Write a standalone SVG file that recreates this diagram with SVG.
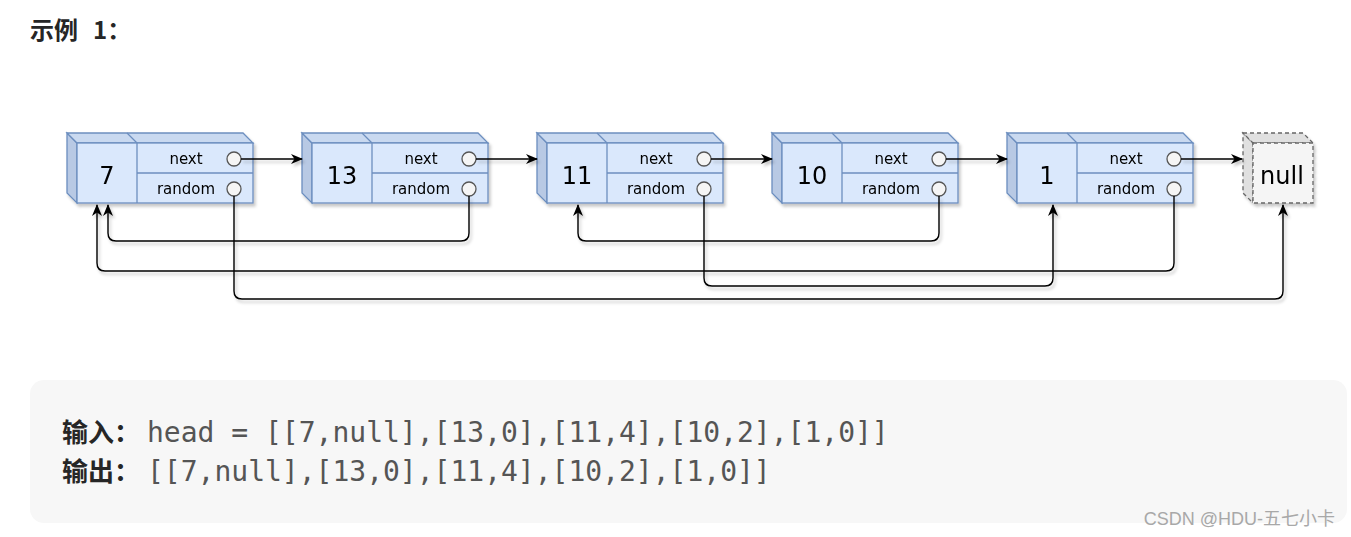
<svg xmlns="http://www.w3.org/2000/svg" width="1351" height="537" viewBox="0 0 1351 537">
<style>
.front{fill:#dae8fc;stroke:#6c8ebf;stroke-width:1.3}
.top{fill:#c9d9f0;stroke:#6c8ebf;stroke-width:1.3}
.left{fill:#b8c9e4;stroke:#6c8ebf;stroke-width:1.3}
.div{stroke:#6c8ebf;stroke-width:1.3;fill:none}
.circ{fill:#f5f5f5;stroke:#555;stroke-width:1.3}
.val{font-family:"DejaVu Sans",sans-serif;font-size:24px;fill:#000;text-anchor:middle}
.fld{font-family:"DejaVu Sans",sans-serif;font-size:15px;fill:#000;text-anchor:middle}
.conn{fill:none;stroke:#000;stroke-width:1.4}
.nfront{fill:#f5f5f5;stroke:#666;stroke-width:1.3;stroke-dasharray:4 3}
.nside{fill:#e0e0e0;stroke:#666;stroke-width:1.3;stroke-dasharray:4 3}
.cjk{font-family:"Noto Sans CJK SC",sans-serif;font-weight:bold;fill:#262626}
.mono{font-family:"DejaVu Sans Mono",monospace;font-size:28px;fill:#555}
</style>
<defs>
<filter id="sh" x="-10%" y="-10%" width="130%" height="140%">
<feDropShadow dx="2" dy="3" stdDeviation="1.5" flood-color="#000" flood-opacity="0.22"/>
</filter>
<marker id="arr" viewBox="0 0 12 10" refX="11" refY="5" markerWidth="12" markerHeight="10" markerUnits="userSpaceOnUse" orient="auto">
<path d="M0,0 L12,5 L0,10 L3.5,5 Z" fill="#000"/>
</marker>
</defs>
<rect width="1351" height="537" fill="#fff"/>
<text x="30" y="39" class="cjk" font-size="24">示例 <tspan x="93">1：</tspan></text>

<g id="node-7" filter="url(#sh)">
<polygon class="left" points="67,133 77,143 77,203 67,193"/>
<polygon class="top" points="67,133 243,133 253,143 77,143"/>
<line class="div" x1="127" y1="133" x2="137" y2="143"/>
<rect class="front" x="77" y="143" width="176" height="60"/>
<line class="div" x1="137" y1="143" x2="137" y2="203"/>
<line class="div" x1="137" y1="173" x2="253" y2="173" stroke-width="2"/>
<text class="val" x="107" y="184">7</text>
<text class="fld" x="186" y="164">next</text>
<text class="fld" x="186" y="194">random</text>
<circle class="circ" cx="234" cy="159" r="7"/>
<circle class="circ" cx="234" cy="189" r="7"/>
</g>
<g id="node-13" filter="url(#sh)">
<polygon class="left" points="302,133 312,143 312,203 302,193"/>
<polygon class="top" points="302,133 478,133 488,143 312,143"/>
<line class="div" x1="362" y1="133" x2="372" y2="143"/>
<rect class="front" x="312" y="143" width="176" height="60"/>
<line class="div" x1="372" y1="143" x2="372" y2="203"/>
<line class="div" x1="372" y1="173" x2="488" y2="173" stroke-width="2"/>
<text class="val" x="342" y="184">13</text>
<text class="fld" x="421" y="164">next</text>
<text class="fld" x="421" y="194">random</text>
<circle class="circ" cx="469" cy="159" r="7"/>
<circle class="circ" cx="469" cy="189" r="7"/>
</g>
<g id="node-11" filter="url(#sh)">
<polygon class="left" points="537,133 547,143 547,203 537,193"/>
<polygon class="top" points="537,133 713,133 723,143 547,143"/>
<line class="div" x1="597" y1="133" x2="607" y2="143"/>
<rect class="front" x="547" y="143" width="176" height="60"/>
<line class="div" x1="607" y1="143" x2="607" y2="203"/>
<line class="div" x1="607" y1="173" x2="723" y2="173" stroke-width="2"/>
<text class="val" x="577" y="184">11</text>
<text class="fld" x="656" y="164">next</text>
<text class="fld" x="656" y="194">random</text>
<circle class="circ" cx="704" cy="159" r="7"/>
<circle class="circ" cx="704" cy="189" r="7"/>
</g>
<g id="node-10" filter="url(#sh)">
<polygon class="left" points="772,133 782,143 782,203 772,193"/>
<polygon class="top" points="772,133 948,133 958,143 782,143"/>
<line class="div" x1="832" y1="133" x2="842" y2="143"/>
<rect class="front" x="782" y="143" width="176" height="60"/>
<line class="div" x1="842" y1="143" x2="842" y2="203"/>
<line class="div" x1="842" y1="173" x2="958" y2="173" stroke-width="2"/>
<text class="val" x="812" y="184">10</text>
<text class="fld" x="891" y="164">next</text>
<text class="fld" x="891" y="194">random</text>
<circle class="circ" cx="939" cy="159" r="7"/>
<circle class="circ" cx="939" cy="189" r="7"/>
</g>
<g id="node-1" filter="url(#sh)">
<polygon class="left" points="1007,133 1017,143 1017,203 1007,193"/>
<polygon class="top" points="1007,133 1183,133 1193,143 1017,143"/>
<line class="div" x1="1067" y1="133" x2="1077" y2="143"/>
<rect class="front" x="1017" y="143" width="176" height="60"/>
<line class="div" x1="1077" y1="143" x2="1077" y2="203"/>
<line class="div" x1="1077" y1="173" x2="1193" y2="173" stroke-width="2"/>
<text class="val" x="1047" y="184">1</text>
<text class="fld" x="1126" y="164">next</text>
<text class="fld" x="1126" y="194">random</text>
<circle class="circ" cx="1174" cy="159" r="7"/>
<circle class="circ" cx="1174" cy="189" r="7"/>
</g>
<g id="node-null" filter="url(#sh)">
<polygon class="nside" points="1243,133 1253,143 1253,203 1243,193"/>
<polygon class="nside" points="1243,133 1303,133 1313,143 1253,143"/>
<rect class="nfront" x="1253" y="143" width="60" height="60"/>
<text class="val" x="1282" y="184" fill="#333">null</text>
</g>

<g id="connectors" filter="url(#sh)">
<path class="conn" d="M241,159 H302" marker-end="url(#arr)"/>
<path class="conn" d="M476,159 H537" marker-end="url(#arr)"/>
<path class="conn" d="M711,159 H772" marker-end="url(#arr)"/>
<path class="conn" d="M946,159 H1007" marker-end="url(#arr)"/>
<path class="conn" d="M1181,159 H1242" marker-end="url(#arr)"/>
<path class="conn" d="M234,196 V291 Q234,299 242,299 H1275 Q1283,299 1283,291 V205" marker-end="url(#arr)"/>
<path class="conn" d="M469,196 V233 Q469,241 461,241 H116 Q108,241 108,233 V205" marker-end="url(#arr)"/>
<path class="conn" d="M704,196 V278 Q704,286 712,286 H1045 Q1053,286 1053,278 V205" marker-end="url(#arr)"/>
<path class="conn" d="M939,196 V233 Q939,241 931,241 H586 Q578,241 578,233 V205" marker-end="url(#arr)"/>
<path class="conn" d="M1174,196 V263 Q1174,271 1166,271 H105 Q97,271 97,263 V205" marker-end="url(#arr)"/>
</g>

<rect x="30" y="380" width="1317" height="143" rx="14" fill="#f7f7f7"/>
<text x="62" y="442" class="cjk" font-size="26">输入：</text>
<text x="147" y="442" class="mono">head = [[7,null],[13,0],[11,4],[10,2],[1,0]]</text>
<text x="62" y="481" class="cjk" font-size="26">输出：</text>
<text x="147" y="481" class="mono">[[7,null],[13,0],[11,4],[10,2],[1,0]]</text>
<text x="1335" y="525" text-anchor="end" font-family="'Liberation Sans','Noto Sans CJK SC',sans-serif" font-size="18" fill="#a8a8a8">CSDN @HDU-五七小卡</text>
</svg>
